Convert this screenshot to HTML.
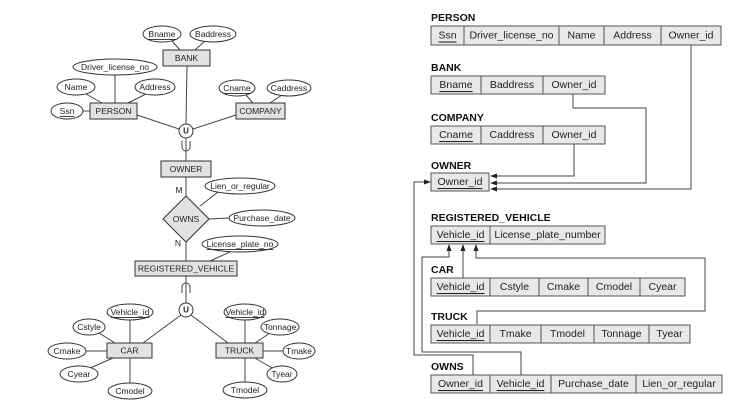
<!DOCTYPE html>
<html><head><meta charset="utf-8"><style>
html,body{margin:0;padding:0;background:#fff;}
svg{display:block;font-family:"Liberation Sans",Arial,sans-serif;}
.e{fill:#fff;stroke:#333;stroke-width:1}
.b{fill:#e2e2e2;stroke:#333;stroke-width:1}
.l{stroke:#444;stroke-width:1;fill:none}
.t{font-size:8.5px;fill:#222;text-anchor:middle;dominant-baseline:central}
.c{fill:#e8e8e8;stroke:#555;stroke-width:1}
.ct{font-size:10.5px;fill:#222;text-anchor:middle;dominant-baseline:central}
.h{font-size:10.5px;font-weight:bold;fill:#111}
.u{text-decoration:underline}
.a{fill:#222}
</style></head><body>
<svg width="734" height="404" viewBox="0 0 734 404">
<!-- left ER diagram lines -->
<g class="l">
<line x1="172" y1="41" x2="180" y2="50"/><line x1="205" y1="41" x2="195" y2="50"/>
<line x1="187" y1="66" x2="186" y2="124"/>
<line x1="115" y1="75" x2="115" y2="103"/>
<line x1="86" y1="94" x2="102" y2="103"/><line x1="146" y1="94" x2="128" y2="103"/>
<line x1="83" y1="111" x2="90" y2="111"/>
<line x1="246" y1="95" x2="253" y2="103"/><line x1="282" y1="95" x2="270" y2="103"/>
<line x1="137" y1="115" x2="179" y2="129"/><line x1="236" y1="115" x2="193" y2="129"/>
<line x1="186" y1="138" x2="186" y2="161"/>
<path d="M182 141 V147 A4 4 0 0 0 190 147 V141"/>
<line x1="186" y1="177" x2="186" y2="196"/>
<line x1="200" y1="206" x2="218" y2="192"/>
<line x1="209" y1="219" x2="229" y2="218"/>
<line x1="186" y1="242" x2="186" y2="261"/>
<line x1="230" y1="252" x2="210" y2="261"/>
<line x1="186" y1="276" x2="186" y2="303"/>
<path d="M182 293 V287 A4 4 0 0 1 190 287 V293"/>
<line x1="181" y1="315" x2="143" y2="343"/><line x1="191" y1="315" x2="228" y2="343"/>
<line x1="130" y1="320" x2="130" y2="343"/>
<line x1="99" y1="333" x2="115" y2="343"/>
<line x1="86" y1="351" x2="107" y2="351"/>
<line x1="90" y1="368" x2="113" y2="358"/>
<line x1="130" y1="358" x2="130" y2="383"/>
<line x1="245" y1="320" x2="245" y2="343"/>
<line x1="270" y1="333" x2="255" y2="343"/>
<line x1="263" y1="351" x2="283" y2="351"/>
<line x1="272" y1="368" x2="255" y2="358"/>
<line x1="245" y1="358" x2="245" y2="382"/>
</g>
<!-- ellipses -->
<ellipse class="e" cx="162" cy="34" rx="19" ry="8"/><text class="t u" x="162" y="34">Bname</text>
<ellipse class="e" cx="213" cy="34" rx="23" ry="8"/><text class="t" x="213" y="34">Baddress</text>
<ellipse class="e" cx="115" cy="67" rx="42" ry="8"/><text class="t" x="115" y="67">Driver_license_no</text>
<ellipse class="e" cx="76" cy="87" rx="19" ry="8"/><text class="t" x="76" y="87">Name</text>
<ellipse class="e" cx="155" cy="87" rx="20" ry="8"/><text class="t" x="155" y="87">Address</text>
<ellipse class="e" cx="67" cy="111" rx="16" ry="8"/><text class="t u" x="67" y="111">Ssn</text>
<ellipse class="e" cx="237" cy="88" rx="18" ry="8"/><text class="t u" x="237" y="88">Cname</text>
<ellipse class="e" cx="289" cy="88" rx="22" ry="8"/><text class="t" x="289" y="88">Caddress</text>
<ellipse class="e" cx="240" cy="186" rx="35" ry="8"/><text class="t" x="240" y="186">Lien_or_regular</text>
<ellipse class="e" cx="262" cy="218" rx="33" ry="8"/><text class="t" x="262" y="218">Purchase_date</text>
<ellipse class="e" cx="240" cy="244" rx="38" ry="8"/><text class="t u" x="240" y="244">License_plate_no</text>
<ellipse class="e" cx="130" cy="312" rx="23" ry="8"/><text class="t u" x="130" y="312">Vehicle_id</text>
<ellipse class="e" cx="89" cy="327" rx="16" ry="8"/><text class="t" x="89" y="327">Cstyle</text>
<ellipse class="e" cx="67" cy="351" rx="19" ry="8"/><text class="t" x="67" y="351">Cmake</text>
<ellipse class="e" cx="79" cy="374" rx="19" ry="8"/><text class="t" x="79" y="374">Cyear</text>
<ellipse class="e" cx="130" cy="391" rx="22" ry="8"/><text class="t" x="130" y="391">Cmodel</text>
<ellipse class="e" cx="245" cy="312" rx="21" ry="8"/><text class="t u" x="245" y="312">Vehicle_id</text>
<ellipse class="e" cx="280" cy="327" rx="19" ry="8"/><text class="t" x="280" y="327">Tonnage</text>
<ellipse class="e" cx="299" cy="351" rx="16" ry="8"/><text class="t" x="299" y="351">Tmake</text>
<ellipse class="e" cx="282" cy="374" rx="15" ry="8"/><text class="t" x="282" y="374">Tyear</text>
<ellipse class="e" cx="245" cy="390" rx="22" ry="8"/><text class="t" x="245" y="390">Tmodel</text>
<!-- entity boxes -->
<rect class="b" x="163" y="50" width="47" height="16"/><text class="t" x="186.5" y="58">BANK</text>
<rect class="b" x="90" y="103" width="47" height="16"/><text class="t" x="113.5" y="111">PERSON</text>
<rect class="b" x="236" y="103" width="49" height="16"/><text class="t" x="260.5" y="111">COMPANY</text>
<rect class="b" x="161" y="161" width="50" height="16"/><text class="t" x="186" y="169">OWNER</text>
<rect class="b" x="135" y="261" width="102" height="15"/><text class="t" x="186" y="268.5">REGISTERED_VEHICLE</text>
<rect class="b" x="107" y="343" width="45" height="15"/><text class="t" x="129.5" y="350.5">CAR</text>
<rect class="b" x="216" y="343" width="47" height="15"/><text class="t" x="239.5" y="350.5">TRUCK</text>
<circle class="e" cx="186" cy="131" r="7"/><text class="t" x="186" y="131" style="font-weight:bold;font-size:8px">U</text>
<circle class="e" cx="186" cy="310" r="7"/><text class="t" x="186" y="310" style="font-weight:bold;font-size:8px">U</text>
<polygon class="b" points="186,196 209,219 186,242 163,219"/><text class="t" x="186" y="219">OWNS</text>
<text class="t" x="179" y="190">M</text><text class="t" x="178" y="243">N</text>

<!-- right relational schema -->
<g>
<text class="h" x="431" y="21">PERSON</text>
<rect class="c" x="431" y="26" width="33" height="19"/><text class="ct u" x="447.5" y="35.5">Ssn</text>
<rect class="c" x="464" y="26" width="95" height="19"/><text class="ct" x="511.5" y="35.5">Driver_license_no</text>
<rect class="c" x="559" y="26" width="45" height="19"/><text class="ct" x="581.5" y="35.5">Name</text>
<rect class="c" x="604" y="26" width="57" height="19"/><text class="ct" x="632.5" y="35.5">Address</text>
<rect class="c" x="661" y="26" width="60" height="19"/><text class="ct" x="691" y="35.5">Owner_id</text>

<text class="h" x="431" y="71">BANK</text>
<rect class="c" x="431" y="76" width="50" height="18"/><text class="ct u" x="456" y="85">Bname</text>
<rect class="c" x="481" y="76" width="62" height="18"/><text class="ct" x="512" y="85">Baddress</text>
<rect class="c" x="543" y="76" width="62" height="18"/><text class="ct" x="574" y="85">Owner_id</text>

<text class="h" x="431" y="121">COMPANY</text>
<rect class="c" x="431" y="126" width="50" height="18"/><text class="ct u" x="456" y="135">Cname</text>
<rect class="c" x="481" y="126" width="62" height="18"/><text class="ct" x="512" y="135">Caddress</text>
<rect class="c" x="543" y="126" width="62" height="18"/><text class="ct" x="574" y="135">Owner_id</text>

<text class="h" x="431" y="169">OWNER</text>
<rect class="c" x="431" y="173" width="58" height="18"/><text class="ct u" x="460" y="182">Owner_id</text>

<text class="h" x="431" y="221">REGISTERED_VEHICLE</text>
<rect class="c" x="431" y="226" width="59" height="18"/><text class="ct u" x="460.5" y="235">Vehicle_id</text>
<rect class="c" x="490" y="226" width="115" height="18"/><text class="ct" x="547.5" y="235">License_plate_number</text>

<text class="h" x="431" y="273">CAR</text>
<rect class="c" x="431" y="278" width="59" height="18"/><text class="ct u" x="460.5" y="287">Vehicle_id</text>
<rect class="c" x="490" y="278" width="49" height="18"/><text class="ct" x="514.5" y="287">Cstyle</text>
<rect class="c" x="539" y="278" width="49" height="18"/><text class="ct" x="563.5" y="287">Cmake</text>
<rect class="c" x="588" y="278" width="52" height="18"/><text class="ct" x="614" y="287">Cmodel</text>
<rect class="c" x="640" y="278" width="45" height="18"/><text class="ct" x="662.5" y="287">Cyear</text>

<text class="h" x="431" y="320">TRUCK</text>
<rect class="c" x="431" y="325" width="59" height="18"/><text class="ct u" x="460.5" y="334">Vehicle_id</text>
<rect class="c" x="490" y="325" width="51" height="18"/><text class="ct" x="515.5" y="334">Tmake</text>
<rect class="c" x="541" y="325" width="53" height="18"/><text class="ct" x="567.5" y="334">Tmodel</text>
<rect class="c" x="594" y="325" width="55" height="18"/><text class="ct" x="621.5" y="334">Tonnage</text>
<rect class="c" x="649" y="325" width="41" height="18"/><text class="ct" x="669.5" y="334">Tyear</text>

<text class="h" x="431" y="370">OWNS</text>
<rect class="c" x="431" y="375" width="59" height="18"/><text class="ct u" x="460.5" y="384">Owner_id</text>
<rect class="c" x="490" y="375" width="61" height="18"/><text class="ct u" x="520.5" y="384">Vehicle_id</text>
<rect class="c" x="551" y="375" width="85" height="18"/><text class="ct" x="593.5" y="384">Purchase_date</text>
<rect class="c" x="636" y="375" width="86" height="18"/><text class="ct" x="679" y="384">Lien_or_regular</text>
</g>
<!-- connectors -->
<g class="l">
<polyline points="574,144 574,176 496,176"/>
<polyline points="573,94 573,108 646,108 646,183 496,183"/>
<polyline points="691,45 691,189 496,189"/>
<polyline points="473,375 473,355 414,355 414,182 424,182"/>
<polyline points="521,375 521,352 422,352 422,257 449,257 449,250"/>
<polyline points="463,278 463,250"/>
<polyline points="477,324 477,311 705,311 705,258 476,258 476,250"/>
</g>
<g class="a">
<polygon points="490,176 497,173.5 497,178.5"/>
<polygon points="490,183 497,180.5 497,185.5"/>
<polygon points="490,189 497,186.5 497,191.5"/>
<polygon points="431,182 424,179.5 424,184.5"/>
<polygon points="449,244 446.5,251 451.5,251"/>
<polygon points="463,244 460.5,251 465.5,251"/>
<polygon points="476,244 473.5,251 478.5,251"/>
</g>
</svg>
</body></html>
